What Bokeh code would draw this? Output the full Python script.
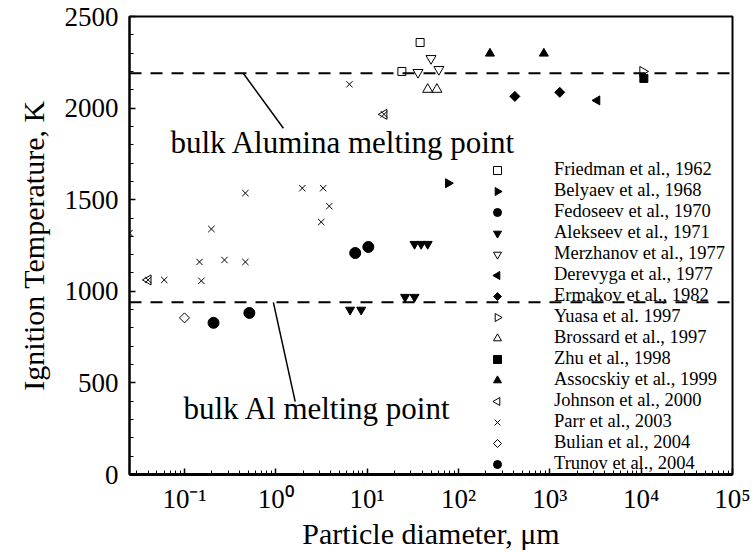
from bokeh.plotting import figure
from bokeh.models import (Range1d, FixedTicker, SingleIntervalTicker, Legend,
                          LegendItem, Span, CustomJS)
from bokeh.core.properties import value
from bokeh.embed import file_html
from bokeh.resources import INLINE

FONT = "Liberation Serif"

# ---- data ----
friedman_x = [24, 38]
friedman_y = [2200, 2358]
belyaev_x = [77]
belyaev_y = [1590]
fedoseev_x = [7.4, 10.3]
fedoseev_y = [1209, 1242]
alekseev_x = [6.5, 8.6, 26, 33, 33, 39, 46]
alekseev_y = [899, 899, 969, 969, 1258, 1258, 1258]
merzhanov_x = [36, 50, 61]
merzhanov_y = [2195, 2271, 2211]
derevyga_x = [3300]
derevyga_y = [2042]
ermakov_x = [414, 1285]
ermakov_y = [2064, 2086]
yuasa_x = [10400]
yuasa_y = [2200]
brossard_x = [46, 58]
brossard_y = [2102, 2102]
zhu_x = [10700]
zhu_y = [2162]
assocskiy_x = [221, 860]
assocskiy_y = [2298, 2298]
johnson_x = [0.04, 15.3]
johnson_y = [1062, 1966]
parr_x = [0.025, 0.04, 0.06, 0.146, 0.153, 0.197, 0.274, 0.464, 0.464, 1.95, 3.3, 3.85, 3.14, 6.4, 15.3]
parr_y = [1318, 1062, 1062, 1160, 1057, 1340, 1171, 1536, 1160, 1563, 1563, 1465, 1378, 2130, 1966]
bulian_x = [0.1]
bulian_y = [855]
trunov_x = [0.208, 0.513]
trunov_y = [828, 882]

alumina_melt = 2190
al_melt = 940

x_major = [0.1, 1, 10, 100, 1000, 10000, 100000]
x_labels = ["10\u207b\u00b9", "10\u2070", "10\u00b9", "10\u00b2", "10\u00b3", "10\u2074", "10\u2075"]

# ---- custom marker shapes (left / right triangles, square diamond) ----
def marker_js(path_code):
    return CustomJS(code="""
export default (...xs) => {
  const d = xs.find((x) => x != null && x.ctx != null)
  const {ctx, i, r, visuals} = d
  const h = r * Math.sqrt(3)
  const a = h / 3
  ctx.beginPath()
  %s
  ctx.closePath()
  if (visuals.fill.doit) { visuals.fill.set_vectorize(ctx, i); ctx.fill() }
  if (visuals.line.doit) { visuals.line.set_vectorize(ctx, i); ctx.stroke() }
}
""" % path_code)

DEFS = {
    "@ltri": marker_js("ctx.moveTo(a, -r); ctx.lineTo(a, r); ctx.lineTo(a - h, 0);"),
    "@rtri": marker_js("ctx.moveTo(-a, -r); ctx.lineTo(-a, r); ctx.lineTo(h - a, 0);"),
    "@dia": marker_js("ctx.moveTo(0, -r); ctx.lineTo(r, 0); ctx.lineTo(0, r); ctx.lineTo(-r, 0);"),
}

p = figure(width=755, height=552, x_axis_type="log",
           x_range=Range1d(0.025, 1e5), y_range=Range1d(0, 2500),
           output_backend="svg", toolbar_location=None,
           min_border_left=129, min_border_right=23,
           min_border_top=16, min_border_bottom=77)
p.grid.visible = False
p.outline_line_color = "black"
p.outline_line_width = 2
p.background_fill_color = "white"
p.border_fill_color = "white"

# axes
minor = []
for e in range(-2, 5):
    for k in range(2, 10):
        v = k * 10 ** e
        if 0.025 <= v <= 1e5:
            minor.append(v)
p.xaxis.ticker = FixedTicker(ticks=x_major, minor_ticks=minor)
p.xaxis.major_label_overrides = {t: l for t, l in zip(x_major, x_labels)}
p.yaxis.ticker = SingleIntervalTicker(interval=500, num_minor_ticks=5)

for ax in (p.xaxis[0], p.yaxis[0]):
    ax.axis_line_width = 2
    ax.axis_line_color = "black"
    ax.major_tick_in = 6
    ax.major_tick_out = 0
    ax.minor_tick_in = 4
    ax.minor_tick_out = 0
    ax.major_tick_line_width = 1.5
    ax.minor_tick_line_width = 1
    ax.major_label_text_font = FONT
    ax.major_label_text_font_size = "27px"
    ax.major_label_text_color = "black"
    ax.axis_label_text_font = FONT
    ax.axis_label_text_font_size = "30px"
    ax.axis_label_text_font_style = "normal"
    ax.axis_label_text_color = "black"

p.xaxis.axis_line_width = 3
p.xaxis.axis_label = "Particle diameter, \u03bcm"
p.yaxis.axis_label = "Ignition Temperature, K"
p.yaxis.major_label_standoff = 11
p.xaxis.major_label_standoff = 9
p.yaxis.axis_label_standoff = 12
p.xaxis.axis_label_standoff = 0

# reference lines
for loc in (alumina_melt, al_melt):
    p.add_layout(Span(location=loc, dimension="width", line_color="black",
                      line_width=2, line_dash="12 9"))

# leader lines + annotations
p.line([0.44, 1.21], [alumina_melt, 1890], line_color="black", line_width=1.5)
p.line([0.94, 1.63], [al_melt, 398], line_color="black", line_width=1.5)
p.text(x=[0.0703], y=[1812], text=["bulk Alumina melting point"],
       text_font=value(FONT), text_font_size="31px", text_baseline="alphabetic",
       text_align="left", text_color="black")
p.text(x=[0.0975], y=[362], text=["bulk Al melting point"],
       text_font=value(FONT), text_font_size="31px", text_baseline="alphabetic",
       text_align="left", text_color="black")

series = [
    ("Friedman et al., 1962", friedman_x, friedman_y, "square", 8, False),
    ("Belyaev et al., 1968", belyaev_x, belyaev_y, "@rtri", 9, True),
    ("Fedoseev et al., 1970", fedoseev_x, fedoseev_y, "circle", 11, True),
    ("Alekseev et al., 1971", alekseev_x, alekseev_y, "inverted_triangle", 9, True),
    ("Merzhanov et al., 1977", merzhanov_x, merzhanov_y, "inverted_triangle", 10, False),
    ("Derevyga et al., 1977", derevyga_x, derevyga_y, "@ltri", 9, True),
    ("Ermakov et al., 1982", ermakov_x, ermakov_y, "@dia", 10, True),
    ("Yuasa et al. 1997", yuasa_x, yuasa_y, "@rtri", 10, False),
    ("Brossard et al., 1997", brossard_x, brossard_y, "triangle", 10, False),
    ("Zhu et al., 1998", zhu_x, zhu_y, "square", 8, True),
    ("Assocskiy et al., 1999", assocskiy_x, assocskiy_y, "triangle", 9, True),
    ("Johnson et al., 2000", johnson_x, johnson_y, "@ltri", 10, False),
    ("Parr et al., 2003", parr_x, parr_y, "x", 9, False),
    ("Bulian et al., 2004", bulian_x, bulian_y, "@dia", 10, False),
    ("Trunov et al., 2004", trunov_x, trunov_y, "circle", 11, True),
]

items = []
for label, xs, ys, marker, size, filled in series:
    kw = dict(defs=DEFS) if marker.startswith("@") else {}
    r = p.scatter(xs, ys, marker=marker, size=size,
                  line_color="black", line_width=1,
                  fill_color="black" if filled else "white",
                  fill_alpha=1.0 if filled else 0.0, **kw)
    items.append(LegendItem(label=label, renderers=[r]))

legend = Legend(items=items, location=(357, 0), orientation="vertical",
                label_text_font=FONT, label_text_font_size="18.5px",
                label_text_color="black",
                glyph_width=22, glyph_height=20, label_height=20,
                label_standoff=46, spacing=0, padding=0, margin=0,
                background_fill_alpha=0, border_line_alpha=0)
p.add_layout(legend)

open("out.html", "w").write(file_html(p, INLINE))
